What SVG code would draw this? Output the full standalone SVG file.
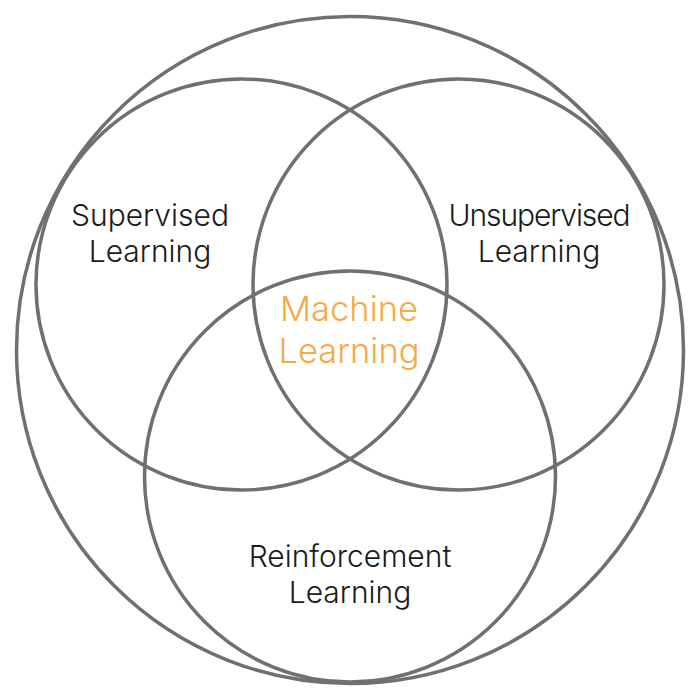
<svg xmlns="http://www.w3.org/2000/svg" width="700" height="700" viewBox="0 0 700 700">
<style>
.c{fill:none;stroke:#707070;stroke-width:3.5}
.t{font-family:Inter,"Noto Sans",sans-serif;font-size:30px;fill:#1a1a1a;text-anchor:middle;font-weight:300}
.m{font-family:Inter,"Noto Sans",sans-serif;font-size:34.5px;fill:#F5AA45;text-anchor:middle;font-weight:300}
</style>
<rect width="700" height="700" fill="#fff"/>
<g id="connectors"/>
<g id="ml-outer"><circle class="c" cx="350" cy="350" r="333.5"/></g>
<g id="supervised"><circle class="c" cx="241.5" cy="284.5" r="205.5"/>
<text class="t" x="150" y="226">Supervised</text><text class="t" x="150" y="262">Learning</text></g>
<g id="unsupervised"><circle class="c" cx="458.5" cy="284.5" r="205.5"/>
<text class="t" x="539.5" y="226" textLength="182" lengthAdjust="spacing">Unsupervised</text><text class="t" x="539" y="262">Learning</text></g>
<g id="reinforcement"><circle class="c" cx="350" cy="476.5" r="205.5"/>
<text class="t" x="350" y="567">Reinforcement</text><text class="t" x="350" y="603">Learning</text></g>
<g id="machine"><text class="m" x="349" y="321">Machine</text><text class="m" x="349" y="363">Learning</text></g>
</svg>
